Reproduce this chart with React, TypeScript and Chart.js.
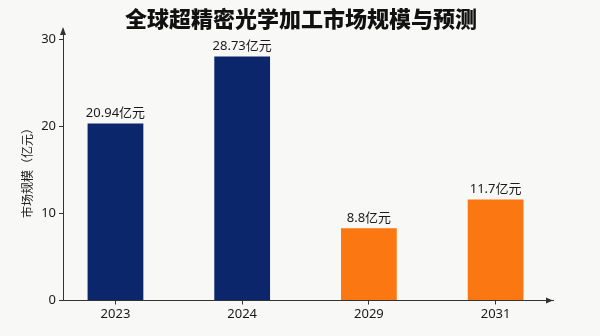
import React, { useEffect, useRef } from 'react';
import { Chart, registerables } from 'chart.js';

Chart.register(...registerables);

const chartTitle = '全球超精密光学加工市场规模与预测';
const yAxisTitle = '市场规模（亿元）';
const years = ['2023', '2024', '2029', '2031'];
const values = [20.3, 28.0, 8.3, 11.6];
const valueLabels = ['20.94亿元', '28.73亿元', '8.8亿元', '11.7亿元'];
const barColors = ['#0c266c', '#0c266c', '#fb7712', '#fb7712'];
const yTicks = [0, 10, 20, 30];

const FONT = '"Noto Sans", "Noto Sans CJK SC", sans-serif';
const AXIS = '#333333';

const overlay = {
  id: 'overlay',
  afterDatasetsDraw(chart: any) {
    const ctx = chart.ctx;
    const meta = chart.getDatasetMeta(0);
    ctx.save();
    ctx.fillStyle = '#1a1a1a';
    ctx.font = `13px ${FONT}`;
    ctx.textAlign = 'center';
    ctx.textBaseline = 'middle';
    meta.data.forEach((el: any, i: number) => {
      ctx.fillText(valueLabels[i], el.x, el.y - 10);
    });
    ctx.restore();
  },
  afterDraw(chart: any) {
    const ctx = chart.ctx;
    const { left, right, top, bottom } = chart.chartArea;
    ctx.save();
    ctx.fillStyle = AXIS;
    ctx.beginPath();
    ctx.moveTo(left, top - 2);
    ctx.lineTo(left - 3, top + 6);
    ctx.lineTo(left + 3, top + 6);
    ctx.closePath();
    ctx.fill();
    ctx.beginPath();
    ctx.moveTo(right, bottom);
    ctx.lineTo(right - 7, bottom - 3);
    ctx.lineTo(right - 7, bottom + 3);
    ctx.closePath();
    ctx.fill();
    ctx.fillStyle = '#111111';
    ctx.font = `900 22px "Noto Sans CJK SC", sans-serif`;
    ctx.textAlign = 'center';
    ctx.textBaseline = 'middle';
    ctx.fillText(chartTitle, 301, 19);
    ctx.translate(27, 170);
    ctx.rotate(-Math.PI / 2);
    ctx.fillStyle = '#222222';
    ctx.font = `12px "Noto Sans CJK SC", sans-serif`;
    ctx.fillText(yAxisTitle, 0, 0);
    ctx.restore();
  },
};

export default function App() {
  const ref = useRef<HTMLCanvasElement | null>(null);
  useEffect(() => {
    if (!ref.current) return;
    const chart = new Chart(ref.current, {
      type: 'bar',
      data: {
        datasets: [
          {
            data: values.map((v, i) => ({ x: i, y: v })),
            backgroundColor: barColors,
            borderWidth: 0,
            barPercentage: 0.44,
            categoryPercentage: 1,
          },
        ],
      },
      options: {
        animation: false,
        responsive: false,
        devicePixelRatio: 1,
        layout: { padding: { left: 0, top: 29, right: 47, bottom: 0 } },
        plugins: { legend: { display: false }, tooltip: { enabled: false }, title: { display: false } },
        scales: {
          x: {
            type: 'linear',
            offset: false,
            min: -0.414,
            max: 3.453,
            afterBuildTicks: (axis: any) => {
              axis.ticks = years.map((_, i) => ({ value: i }));
            },
            afterFit: (s: any) => {
              s.height = 35.5;
            },
            grid: { display: true, offset: false, drawOnChartArea: false, drawTicks: true, tickLength: 4, color: AXIS },
            border: { display: true, color: AXIS, width: 1 },
            ticks: {
              callback: (v: any) => years[v] ?? '',
              color: '#1a1a1a',
              font: { family: FONT, size: 13 },
              padding: 2,
              maxRotation: 0,
              autoSkip: false,
            },
          },
          y: {
            min: 0,
            max: 31.15,
            afterBuildTicks: (axis: any) => {
              axis.ticks = yTicks.map((v) => ({ value: v }));
            },
            afterFit: (s: any) => {
              s.width = 63;
            },
            grid: { display: true, drawOnChartArea: false, drawTicks: true, tickLength: 4, color: AXIS },
            border: { display: true, color: AXIS, width: 1 },
            ticks: {
              color: '#1a1a1a',
              font: { family: FONT, size: 13 },
              padding: 3,
            },
          },
        },
      } as any,
      plugins: [overlay],
    });
    return () => chart.destroy();
  }, []);
  return (
    <div style={{ position: 'fixed', left: 0, top: 0, width: 600, height: 336, background: '#f8f8f6' }}>
      <canvas ref={ref} width={600} height={336} />
    </div>
  );
}
